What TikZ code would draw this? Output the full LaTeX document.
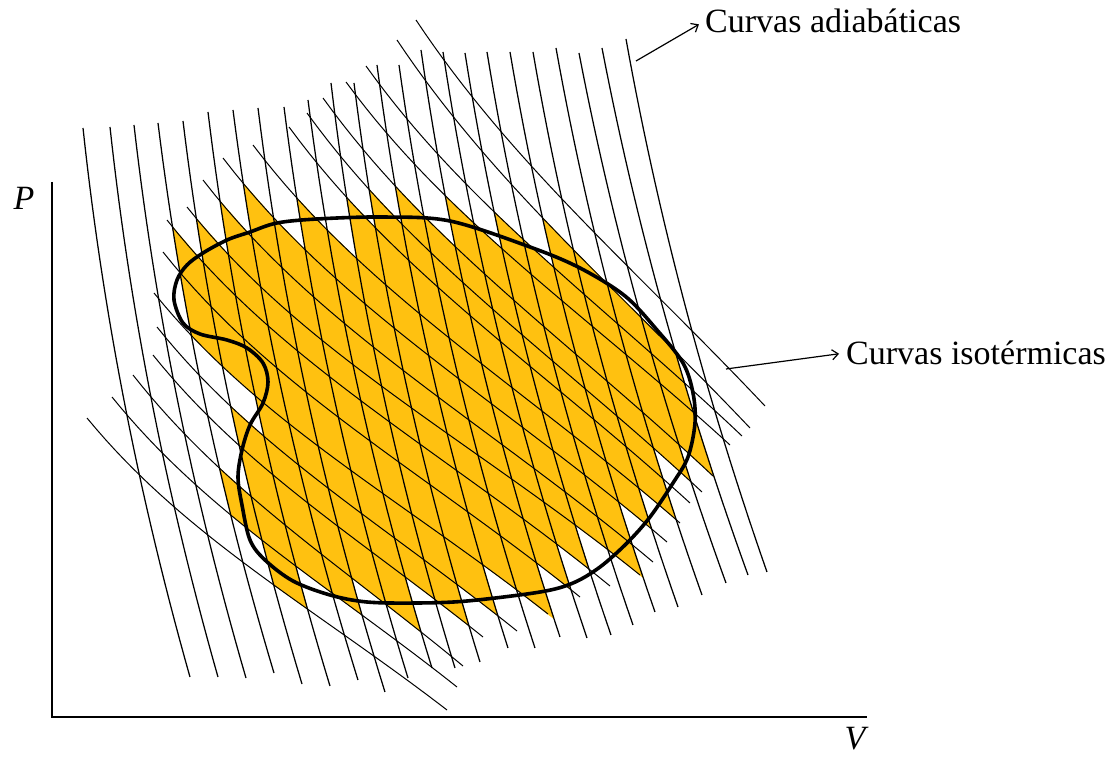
\documentclass[tikz,border=0pt]{standalone}
\usepackage{fontspec}
\setmainfont{Liberation Serif}
\usetikzlibrary{arrows.meta}
\definecolor{cellorange}{RGB}{255,193,16}

% adiabats: top (XT,YT), bottom (XB,YB)
\def\XT{{83,110,134,158,183,208,233,258,284,308,331,354,377,399,421,443,465,487,510,533,556,579,602,626}}
\def\YT{{128,127,125,123,121,112,110,108,107,100,83,83,65,65,50,52,53,52,52,52,48,53,48,39}}
\def\XB{{190,218,246,274,302,330,358,385,408,432,455,480,508,535,560,587,611,633,655,678,702,726,748,767}}
\def\YB{{677,677,678,673,684,686,680,692,678,668,668,662,648,648,637,638,635,625,612,607,595,583,575,572}}
% isotherms: start (XS,YS), end (XE,YE)
\def\XS{{87,112,133,153,157,154,163,167,187,203,223,253,289,307,323,346,366,397,416}}
\def\YS{{418,397,375,355,327,293,252,220,207,180,158,145,127,113,98,82,66,40,20}}
\def\XE{{447,457,463,483,517,548,580,610,640,653,667,680,690,702,713,730,742,750,765}}
\def\YE{{710,687,666,637,631,614,597,586,575,562,542,523,503,492,476,445,436,428,406}}
% polar radius of the cycle around (420,300), every 10 degrees
\def\RT{{209,253,291,310,314,319,322,314,305,303,307,308,303,275,232,178,172,212,246,230,191,157,128,109,98,87,83,81,83,85,87,92,100,114,135,167,209}}

% isotherm shape (steep start, flatter middle, slightly steeper end), X = x - xs
\newcommand\isoy[1]{\iys+\bslope*((#1)-\ixs)+72*(1-exp(-((#1)-\ixs)/110))+28*(exp(((#1)-\ixe)/140)-\ecorr)}
\newcommand\adix[1]{\axt+\aslope*((#1)-\ayt)+1.6*(((#1)-\ayt)/100)*(((#1)-\ayt)/100)}
\newcommand\iterstep{%
  \pgfmathsetmacro\cury{max(-300,min(1200,\isoy{\curx}))}%
  \pgfmathsetmacro\curx{max(0,min(1000,\adix{\cury}))}%
}
\newcommand\loadiso[1]{%
  \pgfmathsetmacro\ixs{\XS[#1]}\pgfmathsetmacro\iys{\YS[#1]}%
  \pgfmathsetmacro\ixe{\XE[#1]}\pgfmathsetmacro\iye{\YE[#1]}%
  \pgfmathsetmacro\ecorr{exp(-(\ixe-\ixs)/140)}%
  \pgfmathsetmacro\bslope{(\iye-\iys-72*(1-exp(-(\ixe-\ixs)/110))-28*(1-\ecorr))/(\ixe-\ixs)}%
}
\newcommand\loadadi[1]{%
  \pgfmathsetmacro\axt{\XT[#1]}\pgfmathsetmacro\ayt{\YT[#1]}%
  \pgfmathsetmacro\axb{\XB[#1]}\pgfmathsetmacro\ayb{\YB[#1]}%
  \pgfmathsetmacro\aslope{(\axb-\axt)/(\ayb-\ayt)-0.016*(\ayb-\ayt)/100}%
}

\tikzset{
  adiabat/.style={line width=1.25pt, black},
  isotherm/.style={line width=1pt, black},
  cycleline/.style={line width=3.6pt, black, line join=round},
  axisline/.style={line width=2.6pt, black},
  cellfill/.style={fill=cellorange, draw=cellorange, line width=0.6pt, line join=round},
  pointer/.style={line width=1.2pt, -{Straight Barb[length=6pt,width=10pt]}, shorten >=7pt},
  lbl/.style={inner sep=0pt, font=\fontsize{34}{40}\selectfont},
}

\begin{document}
\begin{tikzpicture}[x=1pt,y=-1pt]
\useasboundingbox (0,0) rectangle (1109,757);

% ---- intersections of the two families
\foreach \i in {0,...,23}{%
  \loadadi{\i}%
  \foreach \j in {0,...,18}{%
    \loadiso{\j}%
    \pgfmathsetmacro\curx{\axt+\aslope*(\iys-\ayt)}%
    \iterstep\iterstep\iterstep\iterstep\iterstep\iterstep\iterstep
    \pgfmathtruncatemacro\okflag{and(and(\cury>\ayt-8,\cury<\ayb+8),and(\curx>\ixs-8,\curx<\ixe+8))}%
    \expandafter\xdef\csname Px\i-\j\endcsname{\curx}%
    \expandafter\xdef\csname Py\i-\j\endcsname{\cury}%
    \expandafter\xdef\csname V\i-\j\endcsname{\okflag}%
  }%
}

% ---- orange cells (small Carnot cycles approximating the cycle)
\foreach \i in {0,...,22}{%
  \pgfmathtruncatemacro\inext{\i+1}%
  \foreach \j in {0,...,17}{%
    \pgfmathtruncatemacro\jnext{\j+1}%
    \pgfmathtruncatemacro\allok{\csname V\i-\j\endcsname*\csname V\inext-\j\endcsname*\csname V\i-\jnext\endcsname*\csname V\inext-\jnext\endcsname}%
    \ifnum\allok=1
      \edef\qax{\csname Px\i-\j\endcsname}\edef\qay{\csname Py\i-\j\endcsname}%
      \edef\qbx{\csname Px\inext-\j\endcsname}\edef\qby{\csname Py\inext-\j\endcsname}%
      \edef\qcx{\csname Px\inext-\jnext\endcsname}\edef\qcy{\csname Py\inext-\jnext\endcsname}%
      \edef\qdx{\csname Px\i-\jnext\endcsname}\edef\qdy{\csname Py\i-\jnext\endcsname}%
      \pgfmathsetmacro\cmx{(\qax+\qbx+\qcx+\qdx)/4}%
      \pgfmathsetmacro\cmy{(\qay+\qby+\qcy+\qdy)/4}%
      \pgfmathsetmacro\rdx{\cmx-420}\pgfmathsetmacro\rdy{\cmy-300}%
      \pgfmathsetmacro\angc{mod(atan2(\rdy,\rdx)+360,360)}%
      \pgfmathtruncatemacro\kidx{\angc/10}%
      \pgfmathtruncatemacro\kidxn{\kidx+1}%
      \pgfmathsetmacro\frc{\angc/10-\kidx}%
      \pgfmathsetmacro\rlim{\RT[\kidx]*(1-\frc)+\RT[\kidxn]*\frc+5}%
      \pgfmathtruncatemacro\inside{100*veclen(\rdx/100,\rdy/100)<\rlim}%
      \ifnum\inside=1
        \fill[cellfill] (\qax,\qay) -- (\qbx,\qby) -- (\qcx,\qcy) -- (\qdx,\qdy) -- cycle;
      \fi
    \fi
  }%
}

% ---- isotherms
\foreach \j in {0,...,18}{%
  \loadiso{\j}%
  \draw[isotherm] plot[variable=\t, domain=\ixs:\ixe, samples=40] (\t,{\isoy{\t}});
}

% ---- adiabats
\foreach \i in {0,...,23}{%
  \loadadi{\i}%
  \draw[adiabat] plot[variable=\t, domain=\ayt:\ayb, samples=30] ({\adix{\t}},\t);
}

% ---- the cycle
\draw[cycleline] plot[smooth cycle, tension=0.55] coordinates {
  (383,217) (450,221) (530,247) (580,268) (625,296) (657,330) (683,363)
  (693,393) (695,423) (688,457) (673,483) (650,517) (627,543) (600,567)
  (573,583) (540,592) (467,601) (417,603) (367,602) (330,595) (293,581)
  (265,560) (250,540) (242,505) (238,477) (242,450) (250,425) (263,403)
  (268,382) (263,363) (247,348) (227,340) (200,334) (183,323) (174,300)
  (177,280) (187,265) (203,253) (227,240) (250,232) (277,223) (317,219)};

% ---- axes
\coordinate (ytop) at (52,182);
\coordinate (orig) at (52,717);
\coordinate (xend) at (867,717);
\draw[axisline] (ytop) -- (orig) -- (xend);
\node[lbl, anchor=base] (plabel) at (24,210) {\itshape P};
\node[lbl, anchor=base] (vlabel) at (855,749) {\itshape V};

% ---- labels with pointers
\node[lbl, anchor=base west] (adlabel) at (705,32.5) {Curvas adiabáticas};
\node[lbl, anchor=base west] (islabel) at (846,364.5) {Curvas isotérmicas};
\coordinate (adfoot) at (636,61);
\coordinate (isfoot) at (726,369);
\draw[pointer] (adfoot) -- (adlabel.west);
\draw[pointer] (isfoot) -- (islabel.west);
\end{tikzpicture}
\end{document}
